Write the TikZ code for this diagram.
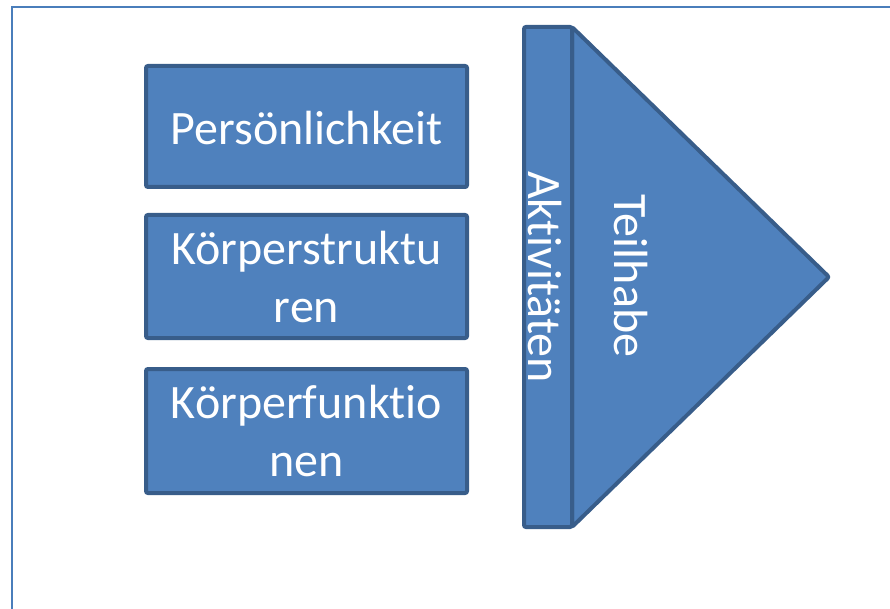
\documentclass[tikz,border=0pt]{standalone}
\usepackage{fontspec}
\setmainfont[Ligatures=NoCommon]{Carlito}
\definecolor{boxfill}{HTML}{4F81BD}
\definecolor{boxline}{HTML}{385D8A}
\definecolor{frameline}{HTML}{4A7EBB}
\tikzset{
  x=1pt, y=-1pt,
  block/.style={draw=boxline, fill=boxfill, line width=4pt, rounded corners=2pt},
  lbl/.style={text=white, font=\fontsize{48}{58}\selectfont, align=center, inner sep=0pt},
}
\begin{document}
\begin{tikzpicture}
\useasboundingbox (0,0) rectangle (890,609);
\draw[frameline, line width=2pt] (11.5,620) -- (11.5,7.5) -- (900,7.5);
% left boxes
\draw[block] (146,66) rectangle (467,187);
\node[lbl] (p) at (306.5,128) {Persönlichkeit};
\draw[block] (146,215) rectangle (467,338);
\node[lbl] (ks) at (306.5,277) {Körperstruktu\\ren};
\draw[block] (146,369) rectangle (467,493);
\node[lbl] (kf) at (306.5,431) {Körperfunktio\\nen};
% activities bar and triangle
\draw[block, line join=round] (572,27) -- (829,277) -- (572,527) -- cycle;
\draw[block] (524,27) rectangle (572,527);
\node[lbl, rotate=-90] (akt) at (545,277) {Aktivitäten};
\node[lbl, rotate=-90] (teil) at (631,276) {Teilhabe};
\end{tikzpicture}
\end{document}
